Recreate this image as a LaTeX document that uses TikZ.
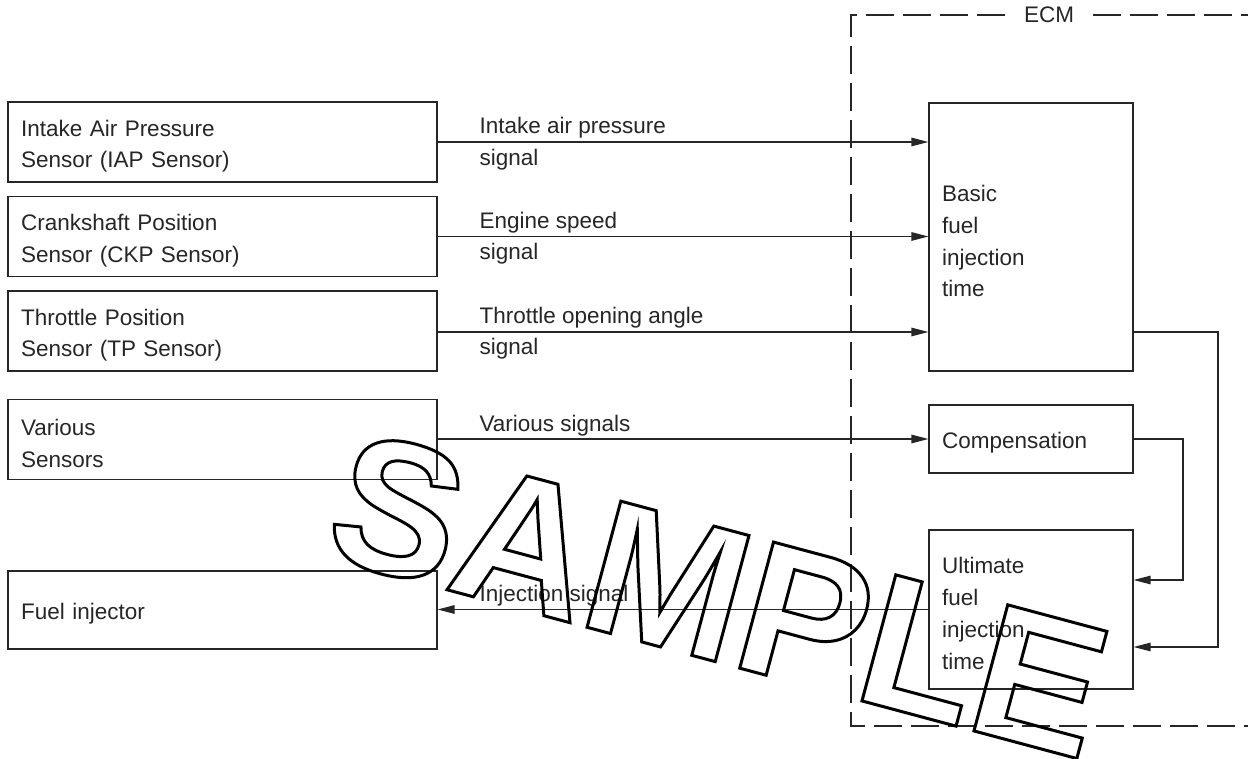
\documentclass[tikz,border=0pt]{standalone}
\usepackage{fontspec}
\setmainfont{Liberation Sans}
\usetikzlibrary{arrows.meta}
\newcommand{\outlinetext}[1]{\special{pdf:literal direct 1 Tr 1.7 w}#1\special{pdf:literal direct 0 Tr}}

\begin{document}
\begin{tikzpicture}[x=0.02cm, y=-0.02cm, line width=0.7pt,
  every node/.style={font=\fontsize{12.8}{18.1}\selectfont, text=black!85},
  sensor/.style={draw=black!85, minimum width=8.58cm, minimum height=1.6cm, text width=8.06cm, inner xsep=0.26cm, align=left, execute at begin node=\rule{0pt}{14pt}},
  ecmbox/.style={draw=black!85, minimum width=4.08cm, text width=3.56cm, inner xsep=0.26cm, align=left, execute at begin node=\rule{0pt}{14pt}},
  lbl/.style={anchor=base west, inner xsep=0pt},
  sig/.style={draw=black!85, -{Triangle[length=0.34cm,width=0.17cm]}},
  border/.style={draw=black!85, dash pattern=on 0.56cm off 0.18cm}]
        \useasboundingbox (0,0) rectangle (1248,759);

        \node[sensor] (A) at (222.5,142) {Intake Air Pressure\\Sensor (IAP Sensor)};
        \node[sensor] (B) at (222.5,236.5) {Crankshaft Position\\Sensor (CKP Sensor)};
        \node[sensor] (C) at (222.5,331) {Throttle Position\\Sensor (TP Sensor)};
        \node[sensor] (D) at (222.5,439.5) {Various\\Sensors};
        \node[sensor, minimum height=1.56cm] (F) at (222.5,610) {Fuel injector};

        \node[ecmbox, minimum height=5.36cm] (P) at (1031,237) {Basic\\fuel\\injection\\time};
        \node[ecmbox, minimum height=1.36cm] (Q) at (1031,439) {Compensation};
        \node[ecmbox, minimum height=3.18cm] (R) at (1031,609.5) {Ultimate\\fuel\\injection\\time};

        \node (E) at (1049,15) {ECM};
        \coordinate (K) at (851,726);
        \coordinate (L) at (1248,726);
        \coordinate (M) at (1248,15);
        \draw[border] (E.west) ++(-0.26cm,0) -| (K) -- (L);
        \draw[border] (E.east) ++(0.26cm,0) -- (M);

        \coordinate (U) at (1218,332);
        \coordinate (V) at (1183,439);

        \draw[sig] (A.east) -- (A.east -| P.west);
        \draw[sig] (B.east) -- (B.east -| P.west);
        \draw[sig] (C.east |- U) -- (U -| P.west);
        \draw[sig] (D.east |- Q) -- (Q.west);
        \draw[sig] (R.west) -- (R.west -| F.east);
        \draw[sig] (P.east |- U) -- (U) |- ([yshift=-0.75cm]R.east);
        \draw[sig] (Q.east) -- (V) |- ([yshift=0.59cm]R.east);

        \node[lbl] (a1) at (479,134) {Intake air pressure};
        \node[lbl] (a2) at (479,166) {signal};
        \node[lbl] (b1) at (479,229) {Engine speed};
        \node[lbl] (b2) at (479,260) {signal};
        \node[lbl] (c1) at (479,324) {Throttle opening angle};
        \node[lbl] (c2) at (479,355) {signal};
        \node[lbl] (d1) at (479,432) {Various signals};
        \node[lbl] (i1) at (479,602) {Injection signal};

        \node[text=black, font=\fontsize{108}{108}\selectfont\bfseries, rotate=-15] (S) at (719,595) {\outlinetext{SAMPLE}};
      \end{tikzpicture}
\end{document}
